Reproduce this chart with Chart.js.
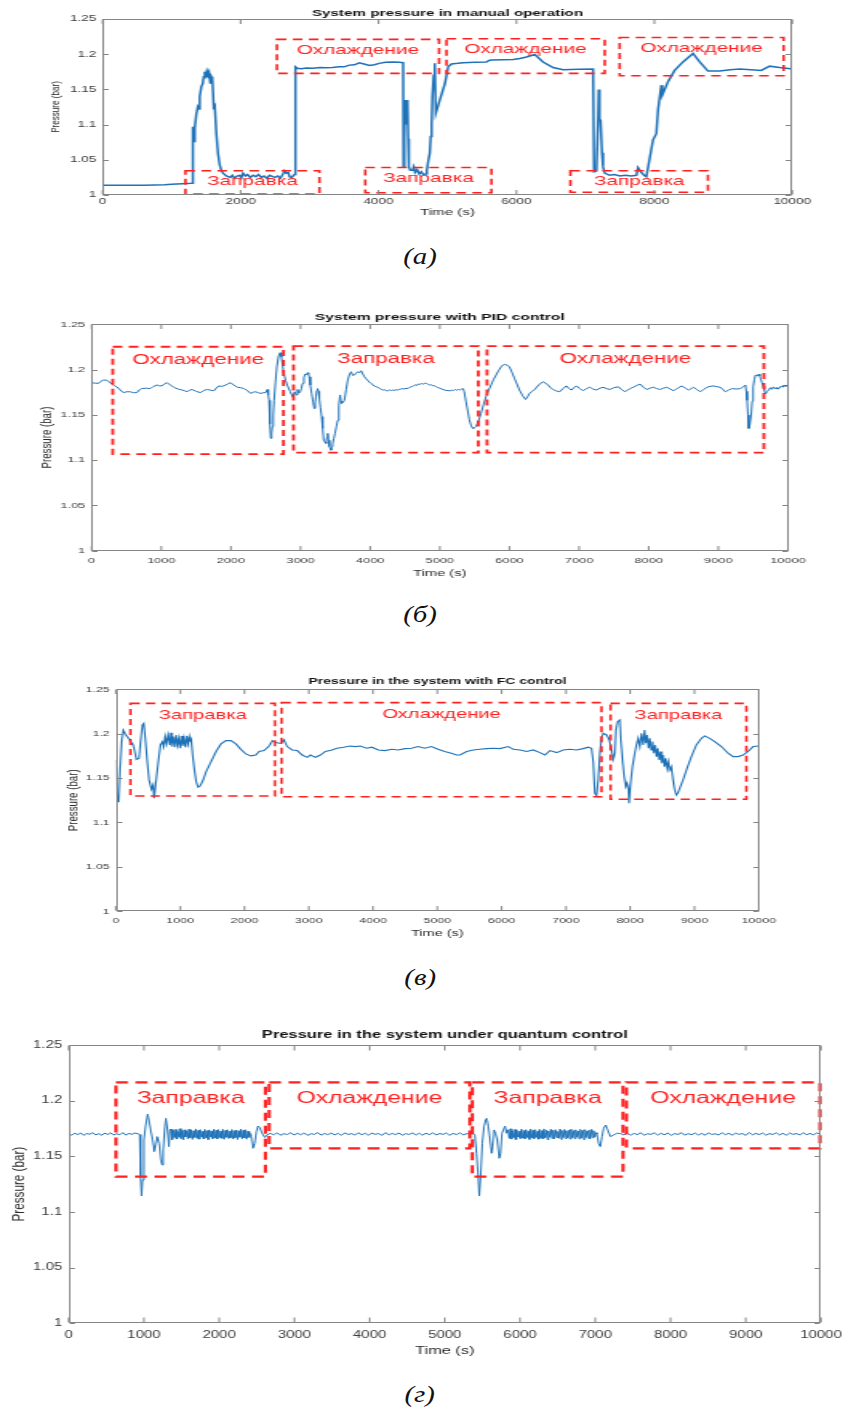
<!DOCTYPE html>
<html>
<head>
<meta charset="utf-8">
<title>System pressure</title>
<script src="https://cdn.jsdelivr.net/npm/chart.js@4.4.1/dist/chart.umd.min.js"></script>
<style>
  html, body { margin: 0; padding: 0; background: #fff; }
  body { position: relative; width: 843px; height: 1409px; overflow: hidden; }
  canvas { position: absolute; left: 0; transform-origin: 0 0; }
  .caption { position: absolute; left: 0; width: 840px; text-align: center;
             font: italic 24px "Liberation Serif", "DejaVu Serif", serif; color: #111; }
  .caption span { display: inline-block; transform: scaleX(1.2); }
</style>
</head>
<body>
<canvas id="manual" width="527" height="218" style="top:0px;transform:scaleX(1.6)"></canvas>
<div class="caption" style="top:243px"><span>(а)</span></div>
<canvas id="pid" width="527" height="279" style="top:300px;transform:scaleX(1.6)"></canvas>
<div class="caption" style="top:601px"><span>(б)</span></div>
<canvas id="fc" width="544" height="269" style="top:670px;transform:scaleX(1.55)"></canvas>
<div class="caption" style="top:964px"><span>(в)</span></div>
<canvas id="quantum" width="562" height="338" style="top:1020px;transform:scaleX(1.5)"></canvas>
<div class="caption" style="top:1381px"><span>(г)</span></div>

<script>
// tick values
const manualTimeTicks = [0, 2000, 4000, 6000, 8000, 10000];
const timeTicks = [0, 1000, 2000, 3000, 4000, 5000, 6000, 7000, 8000, 9000, 10000];
const pressureTicks = [1, 1.05, 1.1, 1.15, 1.2, 1.25];

// phases: [label, start (s), end (s), low (bar), high (bar)]
const manualPhases = [
  ['Заправка', 1200, 3143, 1.0014, 1.0345],
  ['Охлаждение', 2526, 4878, 1.1727, 1.221],
  ['Заправка', 3808, 5638, 1.0033, 1.039],
  ['Охлаждение', 4986, 7280, 1.1727, 1.222],
  ['Заправка', 6782, 8777, 1.0038, 1.0345],
  ['Охлаждение', 7497, 9874, 1.1693, 1.2237]
];
const pidPhases = [
  ['Охлаждение', 303, 2755, 1.1067, 1.2252],
  ['Заправка', 2899, 5553, 1.1082, 1.226],
  ['Охлаждение', 5678, 9654, 1.1082, 1.226]
];
const fcPhases = [
  ['Заправка', 227, 2474, 1.1299, 1.2342],
  ['Охлаждение', 2577, 7554, 1.129, 1.235],
  ['Заправка', 7694, 9807, 1.1261, 1.2342]
];
const quantumPhases = [
  ['Заправка', 628, 2615, 1.1317, 1.2165],
  ['Охлаждение', 2664, 5333, 1.1572, 1.2165],
  ['Заправка', 5364, 7369, 1.1317, 1.2165],
  ['Охлаждение', 7413, 9987, 1.1572, 1.2165]
];

// pressure series: [time (s), pressure (bar)]
const manualSeries = [
  [0,1.0137],[300,1.0137],[600,1.0139],[900,1.0145],[1000,1.0152],[1150,1.016],[1287,1.0166],[1300,1.0168],
  [1305,1.085],[1311,1.097],[1320,1.076],[1335,1.095],[1359,1.116],[1380,1.125],[1395,1.122],[1407,1.14],
  [1431,1.154],[1450,1.158],[1465,1.168],[1480,1.175],[1495,1.17],[1510,1.176],[1525,1.172],[1540,1.175],
  [1562,1.158],[1575,1.168],[1590,1.165],[1610,1.125],[1625,1.127],[1648,1.0875],[1672,1.059],[1697,1.0426],
  [1720,1.035],[1745,1.031],[1793,1.027],[1850,1.025],[1880,1.028],[1910,1.024],[1950,1.027],[1986,1.028],
  [2010,1.024],[2035,1.031],[2070,1.027],[2100,1.029],[2140,1.025],[2180,1.028],[2220,1.026],[2260,1.029],
  [2300,1.025],[2340,1.027],[2380,1.024],[2420,1.028],[2468,1.026],[2500,1.025],[2540,1.027],[2580,1.024],
  [2615,1.03],[2637,1.0345],[2660,1.031],[2690,1.032],[2710,1.026],[2740,1.025],[2781,1.029],[2790,1.03],
  [2800,1.182],[2820,1.18],[2880,1.1795],[2950,1.1805],[3050,1.18],[3150,1.181],[3239,1.1807],[3330,1.181],
  [3432,1.182],[3500,1.182],[3577,1.1845],[3650,1.185],[3721,1.1878],[3790,1.186],[3866,1.184],[3940,1.185],
  [4010,1.187],[4100,1.1885],[4203,1.189],[4300,1.1885],[4357,1.188],
  [4362,1.04],[4375,1.08],[4386,1.135],[4395,1.1],[4405,1.13],[4420,1.135],[4430,1.08],[4440,1.04],
  [4460,1.035],[4492,1.035],[4510,1.04],[4530,1.032],[4560,1.036],[4590,1.03],[4620,1.033],[4650,1.029],
  [4685,1.03],[4700,1.035],[4724,1.05],[4743,1.059],[4757,1.083],[4770,1.1],[4781,1.14],[4800,1.17],
  [4815,1.187],[4830,1.116],[4889,1.135],[4962,1.158],[5010,1.182],[5058,1.186],[5150,1.187],[5227,1.188],
  [5400,1.1885],[5565,1.189],[5600,1.191],[5638,1.1916],[5800,1.192],[5952,1.1925],[6050,1.194],[6145,1.196],
  [6266,1.1996],[6386,1.189],[6531,1.181],[6676,1.178],[6900,1.1785],[7111,1.179],
  [7125,1.033],[7160,1.034],[7185,1.11],[7193,1.15],[7205,1.108],[7220,1.106],[7240,1.06],[7256,1.04],
  [7280,1.031],[7350,1.028],[7420,1.029],[7500,1.027],[7580,1.028],[7660,1.027],[7739,1.028],[7763,1.039],
  [7810,1.032],[7850,1.028],[7884,1.026],[7932,1.052],[7980,1.078],[8029,1.0875],[8053,1.121],[8101,1.156],
  [8116,1.142],[8198,1.161],[8294,1.177],[8415,1.189],[8560,1.201],[8657,1.189],[8777,1.176],[8946,1.176],
  [9100,1.178],[9236,1.179],[9400,1.178],[9550,1.177],[9671,1.183],[9816,1.181],[10000,1.179]
];

const pidSeries = [
  [0,1.1855],[50,1.185],[96,1.1847],[130,1.187],[168,1.1884],[216,1.1884],[250,1.1865],[288,1.184],
  [320,1.1825],[361,1.181],[410,1.1775],[457,1.1745],[500,1.1755],[553,1.1755],[600,1.1745],[649,1.1745],
  [690,1.178],[721,1.179],[780,1.1795],[841,1.179],[890,1.1815],[938,1.183],[975,1.182],[1010,1.182],
  [1050,1.1845],[1082,1.1855],[1130,1.183],[1178,1.1805],[1240,1.1785],[1298,1.1774],[1340,1.1765],[1370,1.1755],
  [1410,1.1775],[1442,1.178],[1500,1.176],[1563,1.1745],[1610,1.177],[1659,1.178],[1710,1.1772],[1755,1.1766],
  [1790,1.1795],[1827,1.182],[1860,1.1815],[1899,1.182],[1950,1.184],[1995,1.1855],[2040,1.183],[2091,1.1805],
  [2140,1.18],[2188,1.179],[2240,1.1765],[2284,1.1737],[2320,1.175],[2356,1.1755],[2390,1.1745],[2428,1.1737],
  [2470,1.1745],[2500,1.1745],[2524,1.178],[2536,1.172],[2548,1.166],[2560,1.14],[2572,1.124],[2584,1.13],
  [2596,1.137],[2608,1.15],[2620,1.166],[2640,1.186],[2659,1.203],[2685,1.215],[2707,1.2186],[2726,1.214],
  [2740,1.206],[2755,1.1976],[2785,1.188],[2813,1.182],[2850,1.176],[2885,1.17],[2900,1.173],[2918,1.1755],
  [2935,1.172],[2957,1.178],[2975,1.174],[2995,1.1755],[3012,1.179],[3029,1.1847],[3048,1.191],[3067,1.195],
  [3085,1.194],[3101,1.1965],[3113,1.195],[3125,1.192],[3140,1.183],[3159,1.1737],[3178,1.165],[3197,1.157],
  [3210,1.164],[3221,1.17],[3233,1.177],[3245,1.179],[3257,1.176],[3269,1.168],[3286,1.158],[3303,1.148],
  [3318,1.135],[3332,1.122],[3350,1.12],[3366,1.1185],[3378,1.125],[3390,1.1295],[3402,1.122],[3414,1.115],
  [3426,1.113],[3438,1.111],[3450,1.115],[3462,1.1185],[3478,1.124],[3495,1.1295],[3515,1.137],[3534,1.144],
  [3550,1.16],[3568,1.172],[3580,1.165],[3592,1.1627],[3610,1.164],[3630,1.166],[3655,1.178],[3678,1.1884],
  [3700,1.194],[3726,1.1976],[3750,1.1935],[3774,1.194],[3798,1.196],[3822,1.1976],[3846,1.1965],[3870,1.1987],
  [3895,1.195],[3918,1.192],[3940,1.19],[3965,1.188],[3990,1.186],[4015,1.1847],[4040,1.183],[4065,1.1815],
  [4090,1.181],[4111,1.1805],[4135,1.179],[4160,1.1785],[4185,1.1772],[4210,1.1778],[4235,1.1765],[4255,1.1766],
  [4280,1.1775],[4305,1.1768],[4330,1.1774],[4355,1.177],[4380,1.178],[4399,1.1774],[4420,1.1782],[4445,1.1786],
  [4470,1.179],[4495,1.1785],[4520,1.1795],[4543,1.179],[4570,1.1805],[4595,1.1812],[4620,1.182],[4645,1.183],
  [4670,1.1825],[4688,1.184],[4715,1.1838],[4740,1.1845],[4765,1.184],[4790,1.185],[4808,1.1847],[4830,1.1838],
  [4855,1.183],[4880,1.1832],[4905,1.182],[4928,1.182],[4950,1.181],[4975,1.18],[5000,1.1795],[5025,1.1785],
  [5050,1.178],[5072,1.1774],[5095,1.1768],[5120,1.177],[5145,1.1762],[5170,1.1775],[5195,1.1768],[5220,1.178],
  [5245,1.1772],[5265,1.178],[5290,1.1776],[5315,1.1785],[5335,1.179],[5351,1.1755],[5375,1.165],[5399,1.1553],
  [5423,1.145],[5447,1.1387],[5465,1.136],[5481,1.135],[5500,1.136],[5519,1.137],[5555,1.143],[5591,1.1516],
  [5627,1.161],[5663,1.17],[5700,1.177],[5736,1.183],[5772,1.189],[5808,1.194],[5845,1.199],[5880,1.203],
  [5905,1.205],[5928,1.2057],[5965,1.205],[6000,1.203],[6036,1.197],[6072,1.1903],[6108,1.184],[6144,1.1774],
  [6190,1.171],[6231,1.167],[6260,1.17],[6289,1.1737],[6325,1.176],[6361,1.178],[6420,1.183],[6481,1.1866],
  [6520,1.185],[6553,1.183],[6590,1.18],[6625,1.178],[6670,1.1765],[6721,1.1755],[6770,1.179],[6817,1.182],
  [6855,1.179],[6890,1.1774],[6925,1.18],[6962,1.182],[7010,1.179],[7058,1.1766],[7105,1.179],[7154,1.1805],
  [7200,1.1785],[7250,1.1774],[7300,1.1795],[7346,1.1805],[7395,1.179],[7442,1.178],[7500,1.18],[7563,1.181],
  [7610,1.178],[7659,1.1755],[7720,1.1785],[7779,1.1805],[7830,1.1825],[7875,1.184],[7925,1.1805],[7971,1.178],
  [8020,1.1795],[8067,1.1805],[8115,1.179],[8164,1.178],[8210,1.1795],[8260,1.1805],[8310,1.1785],[8356,1.1766],
  [8415,1.1795],[8476,1.182],[8525,1.1795],[8572,1.1774],[8610,1.179],[8644,1.1805],[8690,1.178],[8740,1.1755],
  [8790,1.178],[8837,1.1805],[8885,1.1815],[8933,1.182],[8980,1.181],[9029,1.1805],[9065,1.178],[9101,1.1755],
  [9150,1.1775],[9197,1.179],[9257,1.1785],[9317,1.179],[9360,1.181],[9389,1.183],[9401,1.176],[9413,1.166],
  [9425,1.15],[9437,1.135],[9450,1.138],[9471,1.1497],[9486,1.165],[9500,1.181],[9517,1.189],[9534,1.194],
  [9558,1.193],[9582,1.195],[9595,1.193],[9606,1.1903],[9625,1.186],[9644,1.182],[9660,1.177],[9678,1.173],
  [9700,1.176],[9726,1.1774],[9745,1.18],[9762,1.1785],[9780,1.1805],[9798,1.1805],[9815,1.179],[9835,1.18],
  [9850,1.1785],[9870,1.179],[9890,1.181],[9910,1.182],[9925,1.1805],[9943,1.183],[9965,1.1815],[9980,1.1825],
  [10000,1.181]
];

const fcSeries = [
  [0,1.1704],[21,1.1235],[41,1.1235],[62,1.159],[88,1.191],[113,1.204],[155,1.1986],[217,1.193],
  [268,1.1873],[294,1.18],[320,1.171],[361,1.1723],[381,1.189],[412,1.21],[433,1.2117],[454,1.1967],
  [485,1.1704],[515,1.148],[552,1.1374],[577,1.1423],[593,1.1273],[619,1.144],[655,1.1667],[691,1.1873],
  [722,1.191],[742,1.1855],[763,1.1967],[784,1.1885],[809,1.1986],[835,1.1873],[851,1.201],[871,1.1855],
  [897,1.1967],[918,1.1848],[938,1.1986],[959,1.1873],[979,1.1948],[1000,1.1836],[1021,1.1975],[1041,1.1862],
  [1062,1.1948],[1083,1.1848],[1103,1.1975],[1124,1.1885],[1144,1.1967],[1160,1.191],[1170,1.1948],
  [1196,1.1742],[1222,1.159],[1248,1.146],[1278,1.1397],[1309,1.1412],[1351,1.147],[1402,1.1573],[1479,1.1686],
  [1557,1.18],[1634,1.1885],[1711,1.1922],[1789,1.1922],[1866,1.1885],[1943,1.1824],[2021,1.1772],[2098,1.175],
  [2175,1.176],[2227,1.18],[2304,1.181],[2382,1.1862],[2433,1.1922],[2485,1.19],[2562,1.189],[2614,1.193],
  [2665,1.1855],[2742,1.1817],[2820,1.181],[2897,1.176],[2974,1.1734],[3026,1.176],[3103,1.1734],[3181,1.176],
  [3258,1.18],[3361,1.1817],[3438,1.1836],[3541,1.1848],[3645,1.1862],[3722,1.1855],[3799,1.1862],[3902,1.1836],
  [3980,1.1848],[4083,1.1817],[4186,1.181],[4289,1.1824],[4392,1.1817],[4495,1.1832],[4598,1.1836],[4701,1.1855],
  [4804,1.1836],[4908,1.1855],[5011,1.1824],[5114,1.18],[5217,1.178],[5300,1.176],[5352,1.176],[5456,1.18],
  [5559,1.1817],[5663,1.1824],[5767,1.1832],[5870,1.1836],[5974,1.1832],[6103,1.1855],[6181,1.1824],[6285,1.1817],
  [6388,1.18],[6492,1.1817],[6596,1.1787],[6673,1.176],[6751,1.181],[6855,1.1787],[6958,1.1817],[7062,1.1824],
  [7165,1.1817],[7269,1.1832],[7347,1.1848],[7399,1.1836],[7425,1.1686],[7450,1.133],[7476,1.13],[7502,1.148],
  [7528,1.178],[7554,1.1948],[7580,1.2005],[7632,1.1986],[7673,1.193],[7709,1.1817],[7735,1.171],[7761,1.178],
  [7777,1.204],[7803,1.2136],[7839,1.2155],[7855,1.193],[7881,1.1704],[7907,1.1517],[7933,1.1404],[7953,1.1442],
  [7973,1.1385],[7984,1.1216],[8005,1.1423],[8036,1.1629],[8072,1.178],[8098,1.1873],[8124,1.1948],[8150,1.1855],
  [8176,1.2005],[8202,1.1873],[8223,1.2042],[8243,1.1892],[8264,1.1986],[8285,1.1836],[8305,1.1948],[8326,1.1817],
  [8347,1.1911],[8367,1.178],[8388,1.1873],[8409,1.1742],[8429,1.1836],[8450,1.1704],[8471,1.18],[8491,1.1667],
  [8512,1.176],[8533,1.1629],[8553,1.1723],[8574,1.161],[8595,1.1686],[8616,1.159],[8641,1.1629],[8667,1.148],
  [8693,1.1366],[8719,1.131],[8745,1.1336],[8771,1.1385],[8823,1.148],[8875,1.159],[8952,1.1742],[9030,1.1873],
  [9108,1.1948],[9160,1.1975],[9238,1.1948],[9315,1.191],[9419,1.1855],[9523,1.178],[9601,1.1742],[9679,1.1742],
  [9756,1.176],[9834,1.18],[9912,1.1855],[10000,1.1862]
];

const quantumSeries = [
  [0,1.1702],[40,1.169],[80,1.1708],[120,1.1695],[160,1.171],[200,1.1688],[240,1.1705],[280,1.1698],
  [320,1.1712],[360,1.1692],[400,1.1704],[440,1.1689],[480,1.1709],[520,1.1696],[560,1.1711],[600,1.1691],
  [640,1.1703],[680,1.1694],[720,1.1713],[760,1.169],[800,1.1706],[840,1.1697],[880,1.171],[925,1.1701],
  [945,1.1695],[956,1.1317],[969,1.1144],[982,1.1287],[1000,1.1647],[1022,1.1772],[1049,1.188],[1066,1.1826],
  [1089,1.1737],[1115,1.1647],[1137,1.1542],[1155,1.1602],[1177,1.1677],[1204,1.1617],[1226,1.1467],[1243,1.1422],
  [1257,1.1557],[1279,1.1766],[1292,1.1841],[1314,1.1737],[1332,1.1587],[1345,1.1737],
  [1360,1.1745],[1375,1.165],[1390,1.1732],[1405,1.1668],[1420,1.1741],[1435,1.1655],[1450,1.1722],[1465,1.1671],
  [1480,1.1748],[1495,1.166],[1510,1.173],[1525,1.1648],[1540,1.1738],[1555,1.1675],[1570,1.1727],[1585,1.1658],
  [1600,1.1744],[1615,1.1667],[1630,1.1735],[1645,1.1652],[1660,1.1729],[1675,1.167],[1690,1.1746],[1705,1.1661],
  [1720,1.1733],[1735,1.1654],[1750,1.1739],[1765,1.1672],[1780,1.1725],[1795,1.1657],[1810,1.1742],[1825,1.1666],
  [1840,1.1731],[1855,1.165],[1870,1.1737],[1885,1.1673],[1900,1.1728],[1915,1.1659],[1930,1.1745],[1945,1.1664],
  [1960,1.1734],[1975,1.1656],[1990,1.174],[2005,1.1669],[2020,1.1726],[2035,1.1662],[2050,1.1743],[2065,1.1653],
  [2080,1.1732],[2095,1.1671],[2110,1.1738],[2125,1.166],[2140,1.1727],[2155,1.1666],[2170,1.1741],[2185,1.1655],
  [2200,1.173],[2215,1.1668],[2230,1.1736],[2245,1.1651],[2260,1.1729],[2275,1.1672],[2290,1.1744],[2305,1.1658],
  [2320,1.1733],[2335,1.1665],[2350,1.1739],[2365,1.1654],[2380,1.1726],[2395,1.167],[2410,1.1712],
  [2429,1.1677],[2451,1.1572],[2474,1.1617],[2496,1.1722],[2518,1.1772],[2540,1.176],[2571,1.1707],[2606,1.167],
  [2637,1.1692],[2680,1.1706],[2725,1.1693],[2770,1.1711],[2815,1.1689],[2860,1.1704],[2905,1.1696],[2950,1.1712],
  [2995,1.1691],[3040,1.1707],[3085,1.1694],[3130,1.171],[3175,1.1688],[3220,1.1703],[3265,1.1697],[3310,1.1713],
  [3355,1.169],[3400,1.1705],[3445,1.1695],[3490,1.1709],[3535,1.1692],[3580,1.1706],[3625,1.1689],[3670,1.1711],
  [3715,1.1696],[3760,1.1704],[3805,1.1691],[3850,1.1712],[3895,1.1694],[3940,1.1707],[3985,1.169],[4030,1.1709],
  [4075,1.1697],[4120,1.1705],[4165,1.1688],[4210,1.1713],[4255,1.1693],[4300,1.1706],[4345,1.1695],[4390,1.171],
  [4435,1.1689],[4480,1.1704],[4525,1.1696],[4570,1.1711],[4615,1.1692],[4660,1.1707],[4705,1.169],[4750,1.1708],
  [4795,1.1694],[4840,1.1712],[4885,1.1691],[4930,1.1705],[4975,1.1697],[5020,1.1709],[5065,1.1689],[5110,1.1706],
  [5155,1.1695],[5200,1.1711],[5245,1.1692],[5290,1.1704],[5333,1.17],[5378,1.1707],[5400,1.169],
  [5422,1.1527],[5444,1.1317],[5458,1.1144],[5476,1.1317],[5498,1.1617],[5520,1.1766],[5542,1.1826],[5556,1.1841],
  [5578,1.1766],[5600,1.1647],[5622,1.1527],[5636,1.1587],[5653,1.1737],[5676,1.1707],[5698,1.1647],[5724,1.1482],
  [5742,1.1527],[5760,1.1707],[5778,1.1737],[5800,1.1772],[5822,1.1707],
  [5840,1.1738],[5855,1.1662],[5870,1.1747],[5885,1.1655],[5900,1.1729],[5915,1.1669],[5930,1.1741],[5945,1.1651],
  [5960,1.1735],[5975,1.1673],[5990,1.1726],[6005,1.166],[6020,1.1744],[6035,1.1664],[6050,1.1731],[6065,1.1657],
  [6080,1.1739],[6095,1.167],[6110,1.1728],[6125,1.1652],[6140,1.1745],[6155,1.1667],[6170,1.1733],[6185,1.1659],
  [6200,1.174],[6215,1.1671],[6230,1.1725],[6245,1.1654],[6260,1.1742],[6275,1.1663],[6290,1.173],[6305,1.1658],
  [6320,1.1746],[6335,1.1668],[6350,1.1736],[6365,1.165],[6380,1.1727],[6395,1.1672],[6410,1.1743],[6425,1.1661],
  [6440,1.1734],[6455,1.1656],[6470,1.1739],[6485,1.1669],[6500,1.1724],[6515,1.1663],[6530,1.1745],[6545,1.1653],
  [6560,1.1732],[6575,1.167],[6590,1.1741],[6605,1.166],[6620,1.1729],[6635,1.1666],[6650,1.1737],[6665,1.1655],
  [6680,1.1744],[6695,1.1668],[6710,1.1731],[6725,1.1659],[6740,1.1738],[6755,1.1672],[6770,1.1727],[6785,1.1657],
  [6800,1.1742],[6815,1.1664],[6830,1.1733],[6845,1.1651],[6860,1.174],[6875,1.167],[6890,1.1728],[6905,1.1662],
  [6920,1.1736],[6935,1.1658],[6950,1.1743],[6965,1.1667],[6980,1.173],[6995,1.1673],[7010,1.1712],[7022,1.17],
  [7044,1.1617],[7067,1.1587],[7089,1.1677],[7111,1.1752],[7138,1.1781],[7164,1.1737],[7200,1.1677],[7244,1.1692],
  [7290,1.1707],[7335,1.1704],[7380,1.1692],[7425,1.1709],[7470,1.169],[7515,1.1706],[7560,1.1695],[7605,1.1712],
  [7650,1.1689],[7695,1.1703],[7740,1.1697],[7785,1.1711],[7830,1.1691],[7875,1.1707],[7920,1.1693],[7965,1.171],
  [8010,1.1688],[8055,1.1705],[8100,1.1696],[8145,1.1713],[8190,1.169],[8235,1.1704],[8280,1.1694],[8325,1.1709],
  [8370,1.1692],[8415,1.1706],[8460,1.1689],[8505,1.1711],[8550,1.1696],[8595,1.1703],[8640,1.1691],[8685,1.1712],
  [8730,1.1694],[8775,1.1707],[8820,1.169],[8865,1.1708],[8910,1.1697],[8955,1.1705],[9000,1.1688],[9045,1.1713],
  [9090,1.1693],[9135,1.1706],[9180,1.1695],[9225,1.171],[9270,1.169],[9315,1.1704],[9360,1.1696],[9405,1.1711],
  [9450,1.1692],[9495,1.1707],[9540,1.1689],[9585,1.1709],[9630,1.1697],[9675,1.1705],[9720,1.1691],[9765,1.1712],
  [9810,1.1694],[9855,1.1706],[9900,1.1693],[9945,1.171],[10000,1.1698]
];

const FONT = '"Liberation Sans", Arial, sans-serif';
Chart.defaults.font.family = FONT;

// MATLAB-style axes box with inward ticks, dashed phase boxes and the title
const axesFrame = {
  id: 'axesFrame',
  afterDraw(chart, args, o) {
    const { ctx, chartArea: a, scales: { x, y } } = chart;
    ctx.save();

    ctx.strokeStyle = '#ff2020';
    ctx.fillStyle = '#ff2020';
    ctx.lineWidth = o.boxWidth;
    ctx.setLineDash(o.dash);
    ctx.font = o.labelSize + 'px ' + FONT;
    ctx.textAlign = 'center';
    ctx.textBaseline = 'middle';
    o.phases.forEach(([name, t0, t1, lo, hi]) => {
      const left = x.getPixelForValue(t0);
      const right = x.getPixelForValue(t1);
      const top = y.getPixelForValue(hi);
      const bottom = y.getPixelForValue(lo);
      ctx.strokeRect(left, top, right - left, bottom - top);
      ctx.fillText(name, (left + right) / 2, top + o.labelDrop);
    });

    ctx.setLineDash([]);
    ctx.strokeStyle = '#858585';
    ctx.lineWidth = 1;
    const l = Math.round(a.left) + 0.5, r = Math.round(a.right) - 0.5;
    const t = Math.round(a.top) + 0.5, b = Math.round(a.bottom) - 0.5;
    ctx.strokeRect(l, t, r - l, b - t);
    ctx.beginPath();
    o.xTicks.forEach(v => {
      const px = x.getPixelForValue(v);
      ctx.moveTo(px, b); ctx.lineTo(px, b - o.tickLen);
      ctx.moveTo(px, t); ctx.lineTo(px, t + o.tickLen);
    });
    pressureTicks.forEach(v => {
      const py = Math.round(y.getPixelForValue(v)) + 0.5;
      ctx.moveTo(l, py); ctx.lineTo(l + 3.5, py);
      ctx.moveTo(r, py); ctx.lineTo(r - 3.5, py);
    });
    ctx.stroke();

    ctx.fillStyle = '#111';
    ctx.font = 'bold ' + o.titleSize + 'px ' + FONT;
    ctx.fillText(o.title, (a.left + a.right) / 2, o.titleY);
    ctx.restore();
  }
};

function pressureChart(id, title, series, phases, xTicks, look) {
  return new Chart(document.getElementById(id), {
    type: 'line',
    data: {
      datasets: [{
        data: series.map(([t, p]) => ({ x: t, y: p })),
        borderColor: '#1f72b8',
        borderWidth: look.lineWidth,
        pointRadius: 0,
        tension: 0,
        fill: false
      }]
    },
    options: {
      responsive: false,
      animation: false,
      devicePixelRatio: 1,
      layout: { padding: { left: look.padLeft, right: look.padRight, top: look.padTop, bottom: 0 } },
      plugins: {
        legend: { display: false },
        tooltip: { enabled: false },
        axesFrame: {
          title, phases, xTicks,
          titleSize: look.titleSize, titleY: look.titleY,
          labelSize: look.labelSize, labelDrop: look.labelDrop,
          boxWidth: look.boxWidth, dash: look.dash, tickLen: look.tickLen
        }
      },
      scales: {
        x: {
          type: 'linear', min: 0, max: 10000,
          afterBuildTicks: axis => { axis.ticks = xTicks.map(v => ({ value: v })); },
          afterFit: axis => {
            axis.height = look.xAxisHeight;
            axis.paddingLeft = 0;
            axis.paddingRight = 0;
          },
          grid: { display: false, drawTicks: false, tickLength: 0 },
          border: { display: false },
          ticks: {
            autoSkip: false, maxRotation: 0, padding: look.xTickPad, color: '#3c3c3c',
            font: { size: look.tickSize },
            callback: v => String(v)
          },
          title: { display: true, text: 'Time (s)', color: '#2a2a2a', padding: 0, font: { size: look.xTitleSize } }
        },
        y: {
          type: 'linear', min: 1, max: 1.25,
          afterBuildTicks: axis => { axis.ticks = pressureTicks.map(v => ({ value: v })); },
          afterFit: axis => {
            axis.width = look.yAxisWidth;
            axis.paddingTop = 0;
            axis.paddingBottom = 0;
          },
          grid: { display: false, drawTicks: false, tickLength: 0 },
          border: { display: false },
          ticks: {
            padding: look.yTickPad, color: '#3c3c3c',
            font: { size: look.tickSize },
            callback: v => String(Math.round(v * 100) / 100)
          },
          title: { display: true, text: 'Pressure (bar)', color: '#2a2a2a', padding: 0, font: { size: look.yTitleSize } }
        }
      }
    },
    plugins: [axesFrame]
  });
}

pressureChart('manual', 'System pressure in manual operation', manualSeries, manualPhases, manualTimeTicks, {
  padLeft: 29.9, padRight: 31.8, padTop: 19, yAxisWidth: 34.3, xAxisHeight: 23,
  tickSize: 8.5, xTickPad: 2, yTickPad: 4, xTitleSize: 9.5, yTitleSize: 8.1,
  titleSize: 9.5, titleY: 13, labelSize: 13, labelDrop: 11,
  boxWidth: 1.6, dash: [6, 4], lineWidth: 1.5, tickLen: 4.5
});

pressureChart('pid', 'System pressure with PID control', pidSeries, pidPhases, timeTicks, {
  padLeft: 23.1, padRight: 34.5, padTop: 24.3, yAxisWidth: 34.2, xAxisHeight: 28.3,
  tickSize: 8, xTickPad: 5, yTickPad: 4, xTitleSize: 9.2, yTitleSize: 9.7,
  titleSize: 9.8, titleY: 17, labelSize: 14, labelDrop: 13,
  boxWidth: 1.8, dash: [6, 4], lineWidth: 1, tickLen: 4.5
});

pressureChart('fc', 'Pressure in the system with FC control', fcSeries, fcPhases, timeTicks, {
  padLeft: 41.2, padRight: 54.5, padTop: 19.3, yAxisWidth: 33.6, xAxisHeight: 27.7,
  tickSize: 8, xTickPad: 4.5, yTickPad: 4, xTitleSize: 9.4, yTitleSize: 9.7,
  titleSize: 9, titleY: 12, labelSize: 13, labelDrop: 11.7,
  boxWidth: 1.6, dash: [6, 4], lineWidth: 1.1, tickLen: 4.5
});

pressureChart('quantum', 'Pressure in the system under quantum control', quantumSeries, quantumPhases, timeTicks, {
  padLeft: 5.5, padRight: 14.7, padTop: 25, yAxisWidth: 40.3, xAxisHeight: 34.7,
  tickSize: 10, xTickPad: 6, yTickPad: 4.3, xTitleSize: 10.9, yTitleSize: 11.7,
  titleSize: 11, titleY: 15, labelSize: 16.5, labelDrop: 16,
  boxWidth: 2.2, dash: [8, 5], lineWidth: 1, tickLen: 5
});
</script>
</body>
</html>
